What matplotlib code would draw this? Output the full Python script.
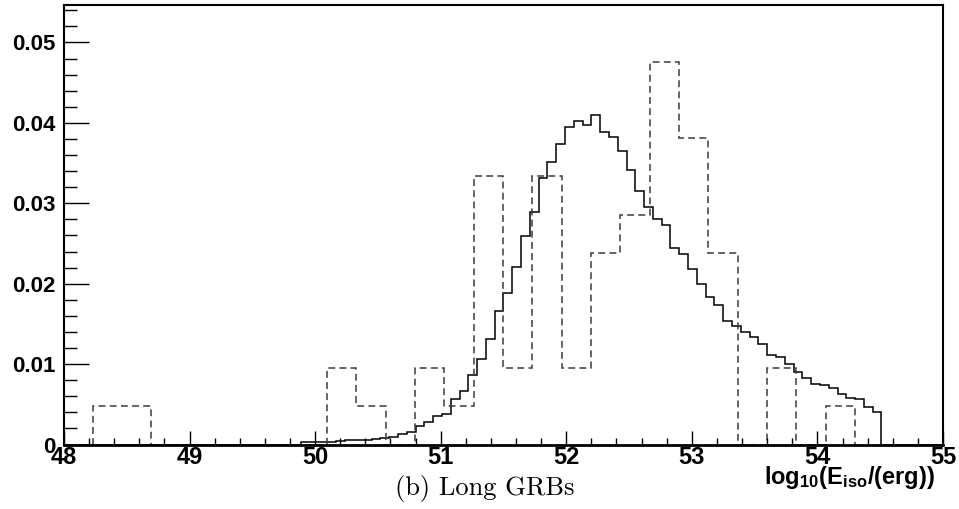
import numpy as np
import matplotlib
matplotlib.use("Agg")
import matplotlib.pyplot as plt
from matplotlib.ticker import MultipleLocator

# fine histogram (solid), 100 bins between 48 and 55
fine_lo, fine_hi, fine_n = 48.0, 55.0, 100
fine_vals = [0.0] * 27 + [
    0.0003, 0.0003, 0.0003, 0.0003, 0.0004, 0.0005, 0.0005, 0.0006, 0.0007, 0.0008,
    0.0009, 0.0013, 0.0016, 0.0023, 0.0028, 0.0035, 0.0038, 0.0057, 0.0066, 0.0087,
    0.0106, 0.0131, 0.0166, 0.0188, 0.0221, 0.0259, 0.0289, 0.0331, 0.0351, 0.0374,
    0.0395, 0.0402, 0.0397, 0.0410, 0.0389, 0.0382, 0.0365, 0.0341, 0.0315, 0.0296,
    0.0280, 0.0273, 0.0244, 0.0237, 0.0218, 0.0199, 0.0184, 0.0173, 0.0154, 0.0148,
    0.0140, 0.0134, 0.0125, 0.0111, 0.0109, 0.0100, 0.0090, 0.0083, 0.0075, 0.0074,
    0.0070, 0.0063, 0.0058, 0.0057, 0.0047, 0.0040,
] + [0.0] * 7

# coarse histogram (dashed), 26 bins
coarse_lo, coarse_hi, coarse_n = 48.228, 54.298, 26
coarse_counts = [1, 1, 0, 0, 0, 0, 0, 0, 2, 1, 0, 2, 1, 7, 2, 7, 2, 5, 6, 10, 8, 5, 0, 2, 0, 1]
coarse_unit = 1 / 210.0

y_ticks = [0, 0.01, 0.02, 0.03, 0.04, 0.05]
y_labels = ["0", "0.01", "0.02", "0.03", "0.04", "0.05"]
x_ticks = [48, 49, 50, 51, 52, 53, 54, 55]

plt.rcParams['mathtext.fontset'] = 'custom'
plt.rcParams['mathtext.rm'] = 'Liberation Sans:bold'
plt.rcParams['mathtext.bf'] = 'Liberation Sans:bold'
plt.rcParams['mathtext.it'] = 'Liberation Sans:bold'

fig = plt.figure(figsize=(9.59, 5.09), dpi=100)
ax = fig.add_axes([0.0667, 0.1267, 0.9166, 0.8641])

fine_edges = np.linspace(fine_lo, fine_hi, fine_n + 1)
coarse_edges = np.linspace(coarse_lo, coarse_hi, coarse_n + 1)

ax.stairs(fine_vals, fine_edges, color='black', linewidth=1.1, baseline=0)
ax.stairs(np.array(coarse_counts) * coarse_unit, coarse_edges, color='#3a3a3a',
          linewidth=1.1, linestyle=(0, (4.5, 2.8)), baseline=0)

ax.set_xlim(48, 55)
ax.set_ylim(0, 0.0547)

ax.set_yticks(y_ticks)
ax.set_yticklabels(y_labels)
ax.set_xticks(x_ticks)
ax.set_xticklabels([str(t) for t in x_ticks])
ax.yaxis.set_minor_locator(MultipleLocator(0.002))
ax.xaxis.set_minor_locator(MultipleLocator(0.2))

ax.tick_params(axis='y', which='major', direction='in', length=18, width=1.0, pad=6)
ax.tick_params(axis='y', which='minor', direction='in', length=9, width=1.0)
ax.tick_params(axis='x', which='major', direction='in', length=10, width=1.0, pad=1)
ax.tick_params(axis='x', which='minor', direction='in', length=5, width=1.0)

for lab in ax.get_yticklabels():
    lab.set_fontfamily('Liberation Sans')
    lab.set_fontweight('bold')
    lab.set_fontsize(16)
for lab in ax.get_xticklabels():
    lab.set_fontfamily('Liberation Sans')
    lab.set_fontweight('bold')
    lab.set_fontsize(17)

for side in ['left', 'top', 'right']:
    ax.spines[side].set_linewidth(1.5)
ax.spines['bottom'].set_linewidth(2.0)

# axis title, right aligned at end of x axis
fig.text(0.975, 0.049, r'$\mathbf{log_{10}(E_{iso}/(erg))}$', ha='right', va='baseline',
         fontsize=17)

# caption
fig.text(0.505, 0.028, '(b) Long GRBs', ha='center', va='baseline',
         fontfamily='cmr10', fontsize=19)

fig.savefig('out.png', dpi=100)
